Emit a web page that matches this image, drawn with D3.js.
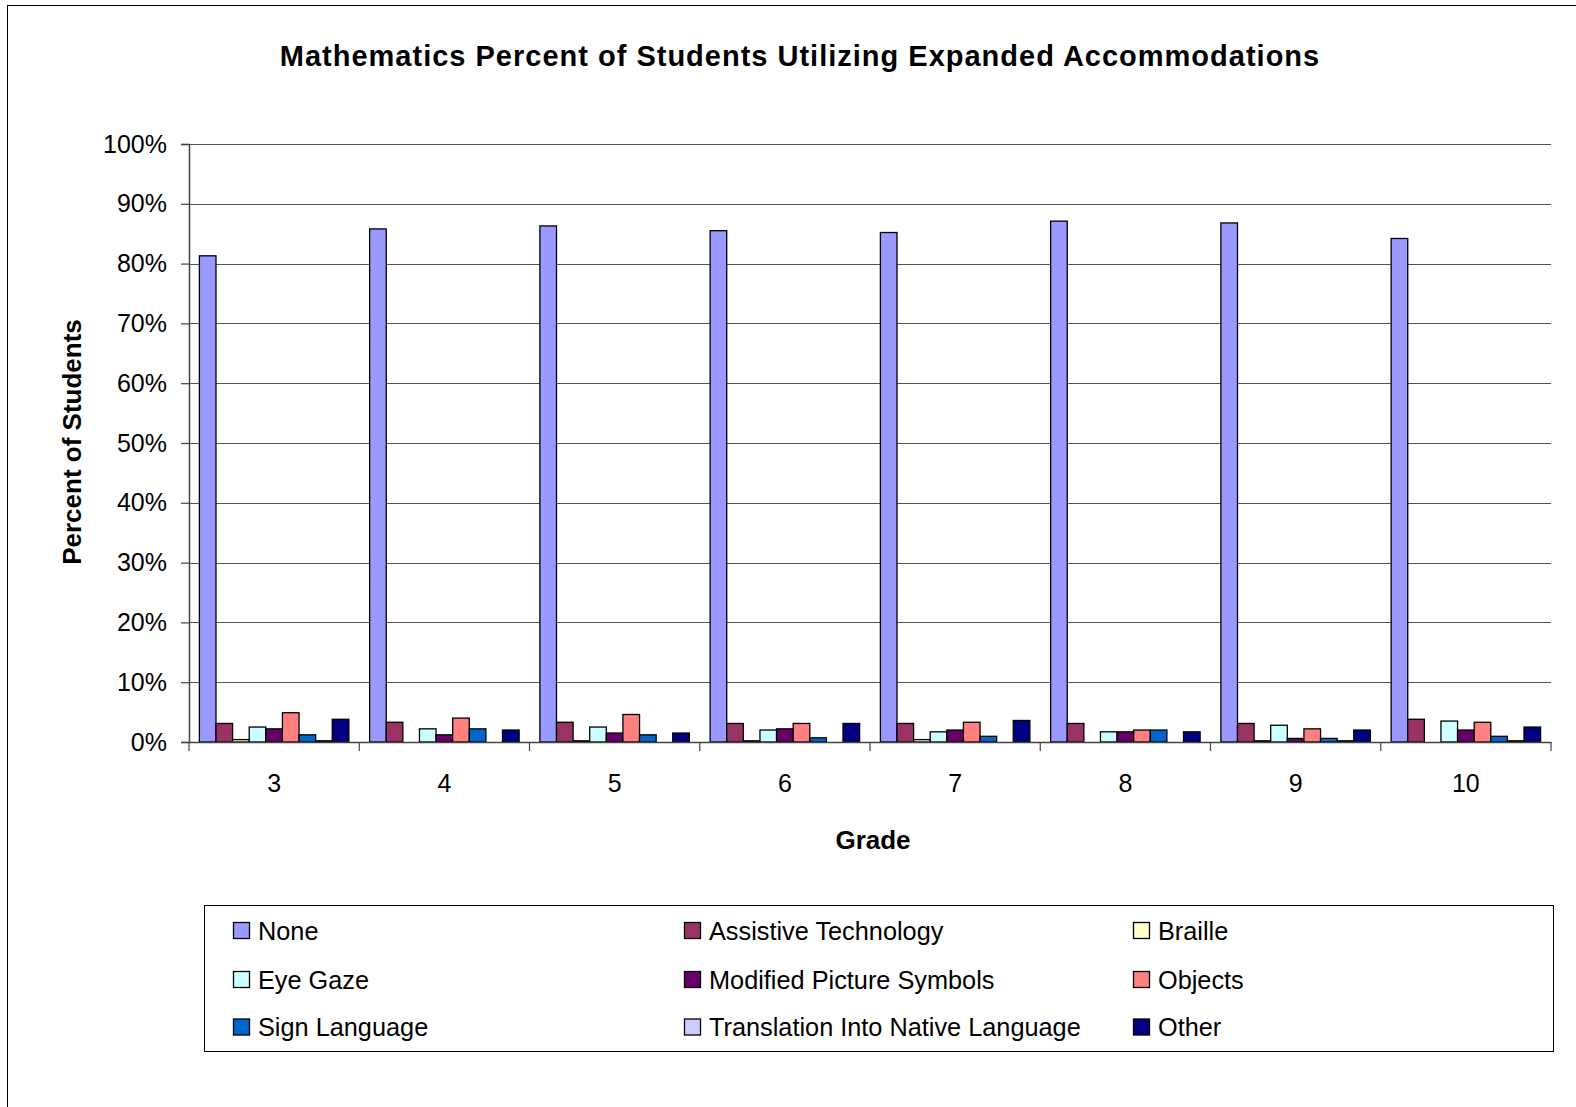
<!DOCTYPE html>
<html>
<head>
<meta charset="utf-8">
<script src="https://cdn.jsdelivr.net/npm/d3@7"></script>
<style>
  html, body { margin: 0; padding: 0; background: #fff; }
  svg { display: block; font-family: "Liberation Sans", Arial, sans-serif; }
</style>
</head>
<body>
<svg id="chart" width="1576" height="1107"></svg>
<script>
const grades = ["3", "4", "5", "6", "7", "8", "9", "10"];
const seriesNames = ["None", "Assistive Technology", "Braille", "Eye Gaze", "Modified Picture Symbols", "Objects", "Sign Language", "Translation Into Native Language", "Other"];
const seriesColors = ["#9999FF", "#993366", "#FFFFCC", "#CCFFFF", "#660066", "#FF8080", "#0066CC", "#CCCCFF", "#000080"];
// values in percent, one array per series, ordered by grade
const none        = [81.3, 85.8, 86.3, 85.5, 85.2, 87.1, 86.8, 84.2];
const assistive   = [3.1, 3.3, 3.3, 3.1, 3.1, 3.1, 3.1, 3.8];
const braille     = [0.4, 0.0, 0.2, 0.2, 0.4, 0.0, 0.2, 0.0];
const eyeGaze     = [2.5, 2.2, 2.5, 2.0, 1.7, 1.7, 2.8, 3.5];
const modPicture  = [2.2, 1.2, 1.5, 2.2, 2.0, 1.7, 0.6, 2.0];
const objects     = [4.9, 4.0, 4.6, 3.1, 3.3, 2.0, 2.2, 3.3];
const signLang    = [1.2, 2.2, 1.2, 0.7, 0.95, 2.0, 0.6, 0.95];
const translation = [0.2, 0.0, 0.0, 0.0, 0.0, 0.0, 0.2, 0.2];
const other       = [3.8, 2.0, 1.5, 3.1, 3.6, 1.7, 2.0, 2.5];
const yTicks = [0, 10, 20, 30, 40, 50, 60, 70, 80, 90, 100];

const seriesValues = [none, assistive, braille, eyeGaze, modPicture, objects, signLang, translation, other];

const svg = d3.select("#chart");
const W = 1576, H = 1107;
const plot = { left: 189, right: 1551, top: 144, bottom: 742 };
const FONT = "'Liberation Sans', Arial, sans-serif";

// outer frame
svg.append("rect").attr("x", 7.5).attr("y", 5.5).attr("width", W).attr("height", H)
  .attr("fill", "none").attr("stroke", "#000").attr("stroke-width", 1);

// title
svg.append("text").attr("x", 800).attr("y", 66).attr("text-anchor", "middle")
  .attr("font-size", 29).attr("font-weight", "bold").attr("letter-spacing", 1).attr("fill", "#000")
  .text("Mathematics Percent of Students Utilizing Expanded Accommodations");

const y = d3.scaleLinear().domain([0, 100]).range([plot.bottom, plot.top]);
const x0 = d3.scaleBand().domain(grades).range([plot.left, plot.right]).paddingInner(0).paddingOuter(0);
const gw = x0.bandwidth();
const gapFrac = 1.25;
const barW = gw / (seriesNames.length + gapFrac);
const x1 = d3.scaleBand().domain(seriesNames.map((d, i) => i))
  .range([barW * gapFrac / 2, gw - barW * gapFrac / 2]).padding(0);

// gridlines
svg.append("g").selectAll("line").data(yTicks.filter(t => t > 0)).join("line")
  .attr("x1", plot.left).attr("x2", plot.right)
  .attr("y1", d => Math.round(y(d)) + 0.5).attr("y2", d => Math.round(y(d)) + 0.5)
  .attr("stroke", "#555").attr("stroke-width", 1.2);

// bars
const groups = svg.append("g").selectAll("g").data(grades).join("g")
  .attr("transform", d => `translate(${x0(d)},0)`);
groups.selectAll("rect").data((g, gi) => seriesValues.map((arr, si) => ({ si, v: arr[gi] })))
  .join("rect")
  .attr("x", d => x1(d.si))
  .attr("width", x1.bandwidth())
  .attr("y", d => y(d.v))
  .attr("height", d => plot.bottom - y(d.v))
  .attr("fill", d => seriesColors[d.si])
  .attr("stroke", "#000").attr("stroke-width", 1.3);

// y axis
const yAxis = d3.axisLeft(y).tickValues(yTicks).tickFormat(d => d + "%").tickSize(8).tickPadding(14);
const yg = svg.append("g").attr("transform", `translate(${plot.left},0)`).call(yAxis);
yg.select(".domain").attr("stroke", "#444").attr("stroke-width", 1.5);
yg.selectAll(".tick line").attr("stroke", "#444").attr("stroke-width", 1.2);
yg.selectAll(".tick text").attr("font-size", 25).attr("fill", "#000").attr("font-family", FONT);

// x axis
const xAxis = d3.axisBottom(x0).tickSize(0).tickPadding(32);
const xg = svg.append("g").attr("transform", `translate(0,${plot.bottom})`).call(xAxis);
xg.select(".domain").attr("stroke", "#444").attr("stroke-width", 1.5);
xg.selectAll(".tick text").attr("font-size", 25).attr("fill", "#000").attr("font-family", FONT);
// category separator ticks
const sepPos = grades.map(g => x0(g)).concat([plot.right]);
svg.append("g").selectAll("line").data(sepPos).join("line")
  .attr("x1", d => d).attr("x2", d => d)
  .attr("y1", plot.bottom).attr("y2", plot.bottom + 9)
  .attr("stroke", "#444").attr("stroke-width", 1.2);

// axis titles
svg.append("text").attr("transform", "translate(81,442) rotate(-90)")
  .attr("text-anchor", "middle").attr("font-size", 26).attr("font-weight", "bold")
  .text("Percent of Students");
svg.append("text").attr("x", 873).attr("y", 849).attr("text-anchor", "middle")
  .attr("font-size", 26).attr("font-weight", "bold").text("Grade");

// legend
svg.append("rect").attr("x", 204.5).attr("y", 905.5).attr("width", 1349).attr("height", 146)
  .attr("fill", "#fff").attr("stroke", "#000").attr("stroke-width", 1);
const colX = [233, 684, 1133];
const rowY = [930.5, 979.5, 1027];
const leg = svg.append("g").selectAll("g").data(seriesNames).join("g")
  .attr("transform", (d, i) => `translate(${colX[i % 3]},${rowY[Math.floor(i / 3)]})`);
leg.append("rect").attr("x", 0.5).attr("y", -8).attr("width", 16).attr("height", 16)
  .attr("fill", (d, i) => seriesColors[i]).attr("stroke", "#000").attr("stroke-width", 1.3);
leg.append("text").attr("x", 25).attr("y", 9).attr("font-size", 25.3).attr("fill", "#000").text(d => d);
</script>
</body>
</html>
